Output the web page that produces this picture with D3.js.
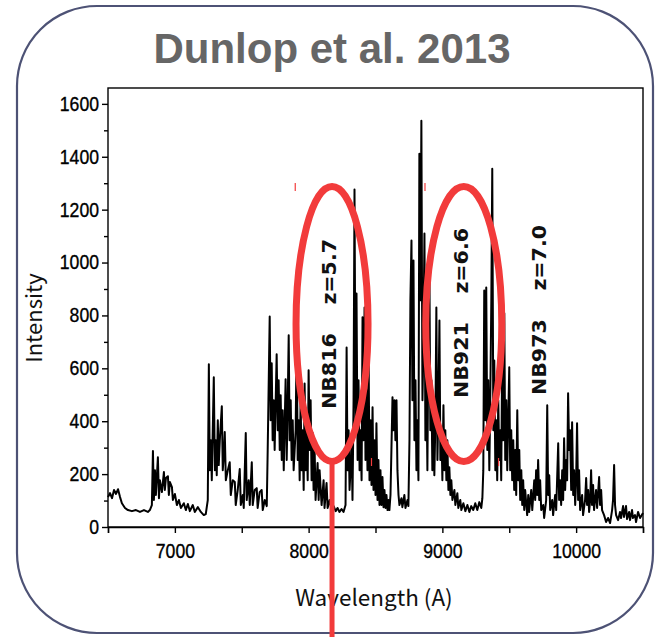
<!DOCTYPE html>
<html>
<head>
<meta charset="utf-8">
<script src="https://cdn.jsdelivr.net/npm/d3@7"></script>
<style>
  html, body { margin: 0; padding: 0; background: #fff; }
  svg { display: block; }
</style>
</head>
<body>
<svg id="chart" width="656" height="637"></svg>
<script>
// Night-sky emission spectrum (OH lines), wavelength in Angstrom vs intensity.
// Each segment lists [wavelength, intensity] samples in order.
const seg6500 = [
  [6500,113],[6515,128],[6530,109],[6545,140],[6560,125],[6575,143],[6590,113],[6604,90],
  [6627,72],[6649,64],[6679,60],[6709,64],[6739,57],[6769,64],[6798,57],[6813,64]
];
const seg6820 = [
  [6828,83],[6836,287],[6843,102],[6851,215],[6858,121],[6873,264],[6881,109],[6888,177],
  [6903,132],[6918,208],[6925,140],[6933,185],[6948,192],[6955,121],[6963,170],[6978,151],
  [6985,102],[7000,125],[7015,83],[7030,102],[7045,72],[7067,90],[7082,64],[7097,87],
  [7112,60],[7134,83],[7149,57],[7172,75],[7194,57],[7216,45],[7231,49]
];
const seg7240 = [
  [7246,102],[7254,615],[7261,215],[7269,328],[7276,177],[7291,566],[7299,215],[7306,328],
  [7313,196],[7321,404],[7328,234],[7336,328],[7351,457],[7358,215],[7366,272],[7373,359],
  [7381,177],[7396,215],[7410,245],[7418,121],[7433,177],[7448,170],[7455,83],[7470,140],
  [7485,219],[7493,83],[7508,121],[7515,72],[7530,355],[7537,102],[7552,177],[7560,83],
  [7575,245],[7582,83],[7597,140],[7612,147],[7619,72],[7634,132],[7649,140],[7657,64],
  [7672,102],[7687,79],[7694,291]
];
const seg7700 = [
  [7709,796],[7716,404],[7724,619],[7731,328],[7739,479],[7746,291],[7761,653],[7769,366],
  [7776,555],[7784,291],[7791,498],[7799,253],[7806,441],[7814,215],[7828,559],[7836,253],
  [7843,441],[7851,725],[7858,328],[7866,479],[7873,253],[7881,404],[7888,215],[7903,366],
  [7911,732],[7918,253],[7926,404],[7933,177],[7940,479],[7948,215],[7955,366],[7963,140],
  [7970,543],[7978,215],[7985,366],[7993,177],[8000,593],[8008,291],[8015,479],[8022,177]
];
const seg8030 = [
  [8030,355],[8037,140],[8045,291],[8052,102],[8067,242],[8075,102],[8082,215],[8097,83],
  [8112,177],[8119,72],[8134,166],[8142,72],[8157,102],[8172,64],[8187,79],[8202,60],
  [8216,72],[8231,57],[8246,68],[8261,57],[8276,83],[8284,679],[8291,215],[8299,366],[8306,140]
];
const seg8310 = [
  [8313,215],[8321,328],[8328,102],[8336,479],[8343,1276],[8351,404],[8358,883],[8366,253],
  [8373,555],[8381,215],[8388,366],[8396,177],[8403,793],[8410,328],[8418,830],[8425,253],
  [8433,517],[8440,215],[8448,694],[8455,177],[8463,404],[8470,159],[8478,453],[8485,140],
  [8493,328],[8500,121],[8507,392],[8515,102],[8522,253],[8530,83],[8537,215],[8545,83],
  [8552,189],[8560,75]
];
const seg8565 = [
  [8567,140],[8575,72],[8582,121],[8590,64],[8597,102],[8604,64],[8612,121],[8619,291],
  [8627,491],[8634,366],[8642,479],[8649,328],[8657,479],[8664,215],[8672,121],[8679,83],
  [8694,109],[8701,75],[8716,121],[8724,72],[8739,102],[8746,79],[8754,328],[8761,857],
  [8769,1083],[8776,479],[8784,1008],[8791,328],[8799,555],[8806,215]
];
const seg8810 = [
  [8813,404],[8821,177],[8828,1411],[8836,857],[8843,1536],[8851,479],[8858,668],[8866,1110],
  [8873,328],[8881,555],[8888,215],[8896,743],[8903,981],[8910,366],[8918,555],[8925,215],
  [8933,479],[8940,196],[8948,404],[8955,830],[8963,253],[8970,441],[8978,781],[8985,253],
  [8993,366],[9000,177]
];
const seg9005 = [
  [9008,460],[9015,215],[9022,366],[9030,177],[9037,328],[9045,140],[9052,226],[9060,121],
  [9067,177],[9075,102],[9090,140],[9097,83],[9112,128],[9119,72],[9134,102],[9142,64],
  [9157,90],[9172,60],[9187,83],[9202,57],[9216,79],[9231,64],[9246,90],[9261,64],
  [9276,94],[9291,72],[9299,109]
];
const seg9300 = [
  [9306,215],[9313,894],[9321,404],[9328,906],[9336,291],[9343,555],[9351,215],[9358,479],
  [9366,857],[9373,1355],[9381,366],[9388,630],[9396,215],[9403,404],[9410,177],[9418,479],
  [9425,253],[9433,366],[9440,177],[9448,717],[9455,328],[9463,808],[9470,253],[9478,479],
  [9485,215],[9500,604],[9507,215]
];
const seg9510 = [
  [9515,366],[9522,177],[9530,328],[9537,140],[9545,291],[9552,121],[9560,441],[9567,177],
  [9575,291],[9582,102],[9590,215],[9597,83],[9604,177],[9612,64],[9619,140],[9634,45],
  [9642,121],[9649,57],[9664,140],[9672,64],[9687,177],[9694,102],[9701,215],[9709,121],
  [9716,253],[9724,102],[9731,177],[9739,64],[9754,83],[9761,34],[9776,102],[9784,460],
  [9791,121],[9799,196],[9806,64]
];
const seg9810 = [
  [9821,102],[9828,45],[9843,121],[9851,64],[9866,317],[9873,102],[9881,177],[9888,83],
  [9896,215],[9903,102],[9910,336],[9918,140],[9925,253],[9933,177],[9940,506],[9948,291],
  [9955,366],[9963,140],[9970,396],[9978,121],[9985,215],[9993,83],[10000,177],[10007,392],
  [10015,102],[10022,215],[10030,64],[10045,121],[10052,45],[10067,102],[10075,185],[10082,83],
  [10090,140],[10097,57]
];
const seg10100 = [
  [10105,102],[10112,215],[10119,83],[10127,159],[10134,64],[10149,140],[10157,72],[10172,189],
  [10179,83],[10187,140],[10194,64],[10209,45],[10224,19],[10239,34],[10254,15],[10269,64],
  [10276,102],[10284,234],[10291,83],[10299,45],[10314,26],[10328,57],[10336,34],[10351,79],
  [10358,38],[10373,79],[10381,30],[10396,57],[10403,26],[10418,64],[10425,34],[10440,45],
  [10448,19],[10463,57],[10478,34],[10500,53]
];

const yMajorTicks = [0, 200, 400, 600, 800, 1000, 1200, 1400, 1600];
const yMinorTicks = [100, 300, 500, 700, 900, 1100, 1300, 1500];
const xMajorTicks = [7000, 8000, 9000, 10000];
const xAllTicks = [6500, 7000, 7500, 8000, 8500, 9000, 9500, 10000, 10500];

// Narrow-band filters and the Lyman-alpha redshift each one selects
const filterNames = ["NB816", "NB921", "NB973"];
const filterRedshifts = ["z=5.7", "z=6.6", "z=7.0"];
const filterCentres = [8150, 9140, 9722];

const titleText = "Dunlop et al. 2013";
const xLabel = "Wavelength (A)";
const yLabel = "Intensity";

const spectrum = [].concat(seg6500, seg6820, seg7240, seg7700, seg8030, seg8310,
  seg8565, seg8810, seg9005, seg9300, seg9510, seg9810, seg10100);

const svg = d3.select("#chart");
const W = 656, H = 637;
const plot = { left: 108, right: 643, top: 88, bottom: 527 };

const x = d3.scaleLinear().domain([6500, 10500]).range([plot.left, plot.right]);
const y = d3.scaleLinear().domain([0, 1660]).range([plot.bottom, plot.top]);

// rounded card outline
svg.append("rect")
  .attr("x", 17).attr("y", 6).attr("width", 636).attr("height", 627)
  .attr("rx", 80).attr("ry", 80)
  .attr("fill", "#fff").attr("stroke", "#4d5275").attr("stroke-width", 2.2);

svg.append("text")
  .attr("x", 332).attr("y", 63)
  .attr("text-anchor", "middle")
  .attr("font-family", "'Liberation Sans', Arial, sans-serif")
  .attr("font-weight", "bold")
  .attr("font-size", 42)
  .attr("fill", "#666666")
  .text(titleText);

const tickFont = "'Liberation Sans', Arial, sans-serif";

// plot frame
svg.append("rect")
  .attr("x", plot.left).attr("y", plot.top)
  .attr("width", plot.right - plot.left).attr("height", plot.bottom - plot.top)
  .attr("fill", "none").attr("stroke", "#000").attr("stroke-width", 1.4);

// y axis: minor then major ticks
const yMinor = svg.append("g").attr("transform", `translate(${plot.left},0)`)
  .call(d3.axisLeft(y).tickValues(yMinorTicks).tickSize(4).tickFormat(""));
const yMajor = svg.append("g").attr("transform", `translate(${plot.left},0)`)
  .call(d3.axisLeft(y).tickValues(yMajorTicks).tickSize(6).tickPadding(3).tickFormat(d3.format("d")));
[yMinor, yMajor].forEach(g => {
  g.select(".domain").remove();
  g.selectAll("line").attr("stroke", "#000").attr("stroke-width", 1.4);
});
yMajor.selectAll("text")
  .attr("font-family", tickFont).attr("font-size", 20).attr("fill", "#000")
  .attr("stroke", "#000").attr("stroke-width", 0.35)
  .attr("textLength", d => String(d).length * 9.8).attr("lengthAdjust", "spacingAndGlyphs");

// x axis
const xAxisG = svg.append("g").attr("transform", `translate(0,${plot.bottom})`)
  .call(d3.axisBottom(x).tickValues(xAllTicks).tickSize(6).tickPadding(11)
    .tickFormat(d => xMajorTicks.includes(d) ? d : ""));
xAxisG.select(".domain").attr("stroke", "#000").attr("stroke-width", 1.4);
xAxisG.selectAll("line").attr("stroke", "#000").attr("stroke-width", 1.4);
xAxisG.selectAll("text")
  .attr("font-family", tickFont).attr("font-size", 20).attr("fill", "#000")
  .attr("stroke", "#000").attr("stroke-width", 0.35)
  .filter(d => xMajorTicks.includes(d))
  .attr("textLength", d => String(d).length * 9.8).attr("lengthAdjust", "spacingAndGlyphs");

// axis titles
svg.append("text")
  .attr("transform", "translate(32,318) rotate(-90)")
  .attr("text-anchor", "middle").attr("dominant-baseline", "central")
  .attr("font-family", "'Noto Sans CJK JP', 'Noto Sans', sans-serif")
  .attr("font-size", 22).attr("fill", "#111")
  .text(yLabel);
svg.append("text")
  .attr("x", 374).attr("y", 606)
  .attr("text-anchor", "middle")
  .attr("font-family", "'Noto Sans CJK JP', 'Noto Sans', sans-serif")
  .attr("font-size", 22.5).attr("fill", "#111")
  .text(xLabel);

// spectrum trace
const line = d3.line().x(d => x(d[0])).y(d => y(d[1]));
svg.append("path")
  .datum(spectrum)
  .attr("d", line)
  .attr("fill", "none")
  .attr("stroke", "#000")
  .attr("stroke-width", 2)
  .attr("stroke-linejoin", "round");

// filter labels, rotated
const labelCentreY = [324, 313, 310];
filterNames.forEach((name, i) => {
  svg.append("text")
    .attr("transform", `translate(${x(filterCentres[i])},${labelCentreY[i]}) rotate(-90)`)
    .attr("text-anchor", "middle").attr("dominant-baseline", "central")
    .attr("font-family", "'DejaVu Sans', sans-serif")
    .attr("font-weight", "bold")
    .attr("font-size", 19).attr("fill", "#111")
    .attr("textLength", 170).attr("lengthAdjust", "spacingAndGlyphs")
    .style("white-space", "pre")
    .text(name + "    " + filterRedshifts[i]);
});

// red highlight ellipses around the first two filters, plus pointer line
const red = "#f23b3b";
const rings = [{ wl: 8175, rx: 36 }, { wl: 9160, rx: 38 }];
rings.forEach(r => {
  svg.append("ellipse")
    .attr("cx", x(r.wl)).attr("cy", 324)
    .attr("rx", r.rx).attr("ry", 137.5)
    .attr("fill", "none").attr("stroke", red).attr("stroke-width", 7);
});
svg.append("line")
  .attr("x1", x(8175)).attr("x2", x(8175))
  .attr("y1", 461).attr("y2", H)
  .attr("stroke", red).attr("stroke-width", 5);

// small red tick marks
[[7900, 183], [8870, 183], [8470, 458], [9420, 458]].forEach(p => {
  svg.append("line")
    .attr("x1", x(p[0])).attr("x2", x(p[0]))
    .attr("y1", p[1]).attr("y2", p[1] + 8)
    .attr("stroke", red).attr("stroke-width", 1.2);
});
</script>
</body>
</html>
